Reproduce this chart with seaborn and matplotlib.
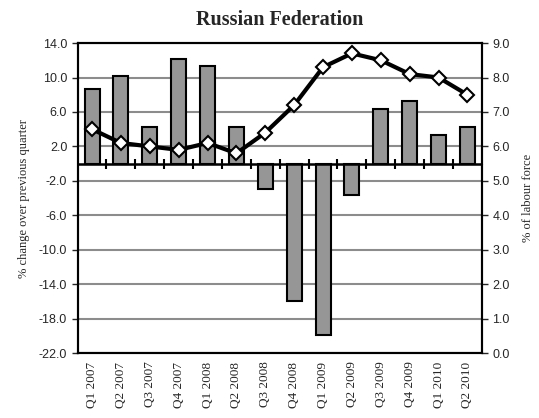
import numpy as np
import pandas as pd
import matplotlib
matplotlib.use("Agg")
import matplotlib.pyplot as plt
import seaborn as sns

# Data
quarters = ["Q1 2007", "Q2 2007", "Q3 2007", "Q4 2007", "Q1 2008", "Q2 2008",
            "Q3 2008", "Q4 2008", "Q1 2009", "Q2 2009", "Q3 2009", "Q4 2009",
            "Q1 2010", "Q2 2010"]
gdp_change = [8.7, 10.2, 4.3, 12.1, 11.3, 4.3, -2.9, -15.9, -19.9, -3.6,
              6.3, 7.3, 3.3, 4.3]
unemployment = [6.5, 6.1, 6.0, 5.9, 6.1, 5.8, 6.4, 7.2, 8.3, 8.7, 8.5, 8.1,
                8.0, 7.5]
left_ticks = [14.0, 10.0, 6.0, 2.0, -2.0, -6.0, -10.0, -14.0, -18.0, -22.0]
right_ticks = [0.0, 1.0, 2.0, 3.0, 4.0, 5.0, 6.0, 7.0, 8.0, 9.0]

df = pd.DataFrame({"quarter": quarters, "change": gdp_change,
                   "rate": unemployment, "idx": np.arange(len(quarters))})

sns.set_style("white")
plt.rcParams["font.family"] = ["Liberation Sans", "DejaVu Sans"]
serif = ["Liberation Serif", "DejaVu Serif"]

fig, ax = plt.subplots(figsize=(5.39, 4.18), dpi=100)
fig.subplots_adjust(left=0.144, right=0.894, top=0.897, bottom=0.155)

sns.barplot(data=df, x="quarter", y="change", color="#969696", saturation=1,
            width=0.52, edgecolor="black", linewidth=1.5, ax=ax, zorder=3)
ax.set_ylim(min(left_ticks), max(left_ticks))
ax.set_yticks(left_ticks)
ax.set_yticklabels([f"{t:.1f}" for t in left_ticks], fontsize=9)
ax.set_xlim(-0.5, len(quarters) - 0.5)
ax.set_xticks(range(len(quarters)))
ax.set_xticklabels(quarters, rotation=90, fontsize=9.5, family=serif)
ax.tick_params(axis="x", length=0, pad=6)
ax.tick_params(axis="y", length=4, width=1, direction="out", left=True)
ax.yaxis.grid(True, color="#8c8c8c", linewidth=1.5, zorder=0)
ax.set_axisbelow(True)
ax.set_xlabel("")
ax.set_ylabel("% change over previous quarter", fontsize=9, family=serif,
              labelpad=6)
for s in ax.spines.values():
    s.set_linewidth(1.5)
    s.set_color("black")

# zero line with category separator ticks
ax.axhline(0, color="black", linewidth=1.8, zorder=4)
zero_frac = (0 - min(left_ticks)) / (max(left_ticks) - min(left_ticks))
sec = ax.secondary_xaxis(zero_frac)
sec.set_xticks(np.arange(0.5, len(quarters) - 1, 1.0))
sec.set_xticklabels([])
sec.tick_params(direction="inout", length=7, width=1.5, color="black")
sec.spines["bottom"].set_visible(False)

ax2 = ax.twinx()
sns.lineplot(data=df, x="idx", y="rate", color="black", linewidth=3,
             marker="D", markersize=7, markerfacecolor="white",
             markeredgecolor="black", markeredgewidth=1.5, sort=False,
             ax=ax2, zorder=5)
ax2.set_ylim(min(right_ticks), max(right_ticks))
ax2.set_yticks(right_ticks)
ax2.set_yticklabels([f"{t:.1f}" for t in right_ticks], fontsize=9)
ax2.tick_params(axis="y", length=4, width=1, direction="out", right=True)
ax2.set_ylabel("% of labour force", fontsize=9, family=serif, labelpad=9)
ax2.set_xlabel("")
ax2.grid(False)
for s in ax2.spines.values():
    s.set_linewidth(1.5)
    s.set_color("black")

ax.set_title("Russian Federation", fontsize=14.5, fontweight="bold",
             family=serif, pad=13)

fig.savefig("out.png", dpi=100)
